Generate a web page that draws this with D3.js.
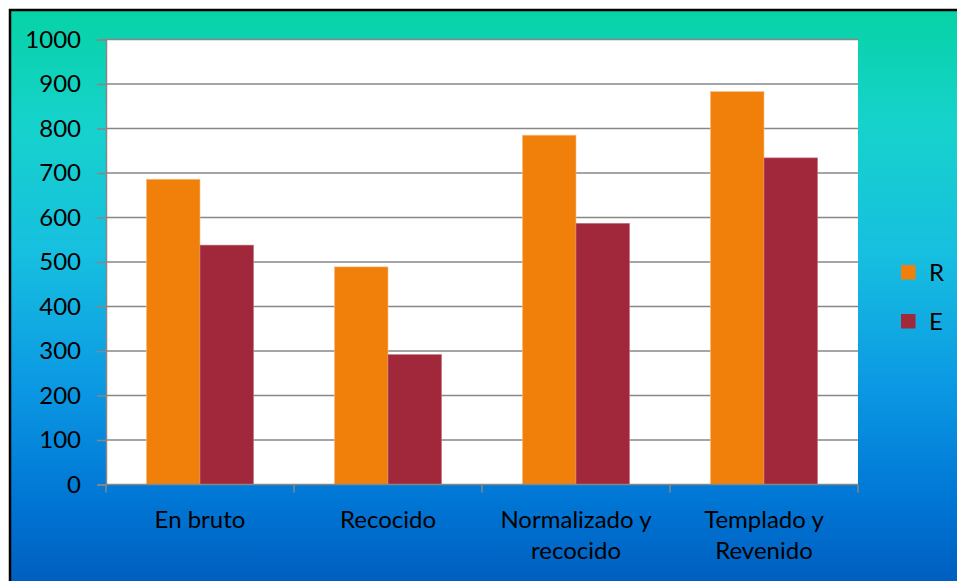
<!DOCTYPE html>
<html>
<head>
<meta charset="utf-8">
<script src="https://cdn.jsdelivr.net/npm/d3@7/dist/d3.min.js"></script>
<style>
  html, body { margin: 0; padding: 0; background: #fff; }
  svg { display: block; }
  text { font-family: Lato, "Open Sans", sans-serif; fill: #000; }
</style>
</head>
<body>
<script>
// Chart data
const categories = [["En bruto"], ["Recocido"], ["Normalizado y", "recocido"], ["Templado y", "Revenido"]];
const seriesNames = ["R", "E"];
const valuesR = [686, 489, 785, 883];
const valuesE = [538, 292, 587, 734];
const yTicks = [0, 100, 200, 300, 400, 500, 600, 700, 800, 900, 1000];
const colors = ["#F0800A", "#A0283A"];

const W = 957, H = 581;
const plot = { left: 106, right: 858, top: 39.5, bottom: 484.5 };
const fontSize = 24;

const svg = d3.select("body").append("svg").attr("width", W).attr("height", H);

// Background gradient panel with frame
const defs = svg.append("defs");
const grad = defs.append("linearGradient").attr("id", "bg").attr("x1", 0).attr("y1", 0).attr("x2", 0).attr("y2", 1);
[[0, "#07d3a6"], [0.2, "#16d2cc"], [0.42, "#17bfe0"], [0.65, "#0b98e3"], [0.85, "#0075d4"], [1, "#005cbd"]]
  .forEach(([o, c]) => grad.append("stop").attr("offset", o).attr("stop-color", c));

svg.append("rect").attr("x", 10).attr("y", 10).attr("width", W).attr("height", H)
  .attr("fill", "url(#bg)").attr("stroke", "#000").attr("stroke-width", 2.5);

// Scales
const x0 = d3.scaleBand().domain(d3.range(categories.length)).range([plot.left, plot.right]).paddingInner(0.43).paddingOuter(0.215);
const x1 = d3.scaleBand().domain(seriesNames).range([0, x0.bandwidth()]);
const y = d3.scaleLinear().domain([0, 1000]).range([plot.bottom, plot.top]);

// Plot area
svg.append("rect").attr("x", plot.left).attr("y", plot.top)
  .attr("width", plot.right - plot.left).attr("height", plot.bottom - plot.top).attr("fill", "#fff");

// Gridlines
svg.append("g").selectAll("line").data(yTicks.filter(d => d > 0)).join("line")
  .attr("x1", plot.left).attr("x2", plot.right)
  .attr("y1", d => y(d)).attr("y2", d => y(d))
  .attr("stroke", "#878787").attr("stroke-width", 1.5);

// Bars
const data = categories.map((c, i) => [valuesR[i], valuesE[i]]);
const groups = svg.append("g").selectAll("g").data(data).join("g")
  .attr("transform", (d, i) => `translate(${x0(i)},0)`);
groups.selectAll("rect").data(d => d.map((v, j) => ({ v, s: seriesNames[j], j }))).join("rect")
  .attr("x", d => x1(d.s)).attr("width", x1.bandwidth())
  .attr("y", d => y(d.v)).attr("height", d => y(0) - y(d.v))
  .attr("fill", d => colors[d.j])
  .attr("stroke", d => d.j === 0 ? "#f8c08a" : "#c77a85").attr("stroke-width", 0.6);

// Y axis
const yAxis = d3.axisLeft(y).tickValues(yTicks).tickFormat(d3.format("d")).tickSize(9).tickPadding(16);
const gy = svg.append("g").attr("transform", `translate(${plot.left},0)`).call(yAxis);
gy.selectAll("path, line").attr("stroke", "#878787").attr("stroke-width", 1.5);
gy.selectAll("text").attr("font-size", fontSize).attr("font-family", "Lato, sans-serif").attr("fill", "#000");

// X axis with tick marks at band boundaries
const bounds = d3.range(categories.length + 1).map(i => plot.left + i * (plot.right - plot.left) / categories.length);
const gx = svg.append("g");
gx.append("line").attr("x1", plot.left).attr("x2", plot.right).attr("y1", plot.bottom).attr("y2", plot.bottom)
  .attr("stroke", "#878787").attr("stroke-width", 1.5);
gx.selectAll("line.tick").data(bounds).join("line").attr("class", "tick")
  .attr("x1", d => d).attr("x2", d => d).attr("y1", plot.bottom).attr("y2", plot.bottom + 8)
  .attr("stroke", "#878787").attr("stroke-width", 1.5);

const labels = gx.selectAll("text.cat").data(categories).join("text").attr("class", "cat")
  .attr("x", (d, i) => x0(i) + x0.bandwidth() / 2)
  .attr("y", 528).attr("text-anchor", "middle").attr("font-size", fontSize);
labels.selectAll("tspan").data(d => d).join("tspan")
  .attr("x", function () { return d3.select(this.parentNode).attr("x"); })
  .attr("dy", (d, i) => i === 0 ? 0 : 31).text(d => d);

// Legend
const legend = svg.append("g").selectAll("g").data(seriesNames).join("g")
  .attr("transform", (d, i) => `translate(901,${265 + i * 49})`);
legend.append("rect").attr("width", 14.5).attr("height", 14.5).attr("fill", (d, i) => colors[i]);
legend.append("text").attr("x", 28).attr("y", 16).attr("font-size", fontSize).text(d => d);
</script>
</body>
</html>
